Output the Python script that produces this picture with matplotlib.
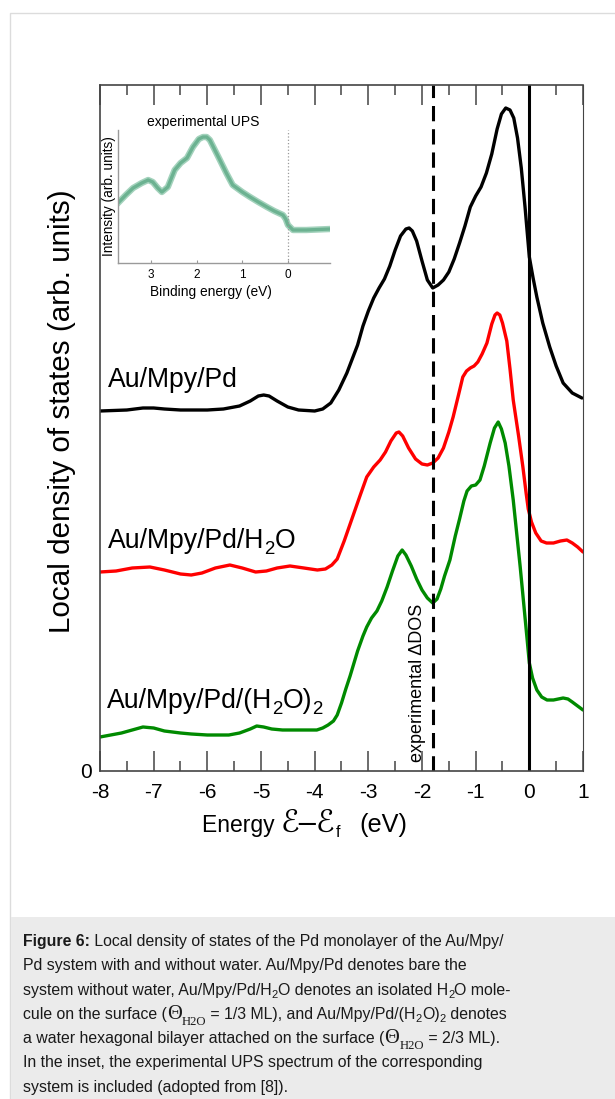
import matplotlib
matplotlib.use("Agg")
import matplotlib.pyplot as plt
from matplotlib import font_manager as fm
from matplotlib.patches import Rectangle
from matplotlib.ticker import MultipleLocator

# --- data -----------------------------------------------------------------
energy_pd = [-8.0, -7.5, -7.2, -7.0, -6.8, -6.5, -6.0, -5.7, -5.4, -5.2, -5.05, -4.95,
             -4.85, -4.7, -4.5, -4.3, -4.0, -3.85, -3.7, -3.55, -3.4, -3.3, -3.2, -3.1,
             -3.0, -2.9, -2.8, -2.7, -2.6, -2.5, -2.4, -2.3, -2.24, -2.18, -2.1, -2.0,
             -1.9, -1.8, -1.7, -1.6, -1.5, -1.4, -1.3, -1.2, -1.1, -1.0, -0.9, -0.8,
             -0.7, -0.6, -0.52, -0.44, -0.36, -0.29, -0.22, -0.15, -0.08, 0.0, 0.07,
             0.14, 0.25, 0.38, 0.5, 0.63, 0.8, 0.98]
dos_pd = [3.60, 3.61, 3.63, 3.63, 3.62, 3.61, 3.61, 3.62, 3.65, 3.70, 3.75, 3.76,
          3.75, 3.70, 3.64, 3.61, 3.60, 3.62, 3.68, 3.81, 3.98, 4.12, 4.26, 4.45,
          4.60, 4.73, 4.83, 4.92, 5.05, 5.21, 5.35, 5.42, 5.43, 5.40, 5.30, 5.10,
          4.91, 4.83, 4.86, 4.91, 4.99, 5.12, 5.28, 5.45, 5.64, 5.75, 5.84, 5.98,
          6.17, 6.42, 6.57, 6.63, 6.61, 6.53, 6.33, 6.03, 5.64, 5.14, 4.93,
          4.74, 4.48, 4.24, 4.05, 3.88, 3.78, 3.73]

energy_h2o = [-8.0, -7.7, -7.4, -7.07, -6.8, -6.5, -6.3, -6.1, -5.85, -5.58, -5.35, -5.1,
              -4.9, -4.7, -4.46, -4.2, -3.95, -3.8, -3.68, -3.58, -3.45, -3.3, -3.15,
              -3.03, -2.9, -2.78, -2.68, -2.58, -2.48, -2.43, -2.36, -2.25, -2.12, -2.0,
              -1.9, -1.8, -1.7, -1.6, -1.5, -1.42, -1.32, -1.24, -1.17, -1.1, -1.03,
              -0.96, -0.88, -0.79, -0.7, -0.64, -0.6, -0.55, -0.5, -0.42, -0.36, -0.3,
              -0.2, -0.12, -0.06, -0.02, 0.04, 0.12, 0.22, 0.32, 0.45, 0.58, 0.7, 0.8,
              0.9, 1.0]
dos_h2o = [1.99, 2.00, 2.03, 2.04, 2.01, 1.97, 1.96, 1.98, 2.03, 2.06, 2.03, 1.99,
           2.00, 2.03, 2.05, 2.03, 2.01, 2.02, 2.06, 2.12, 2.30, 2.53, 2.76,
           2.94, 3.04, 3.11, 3.19, 3.30, 3.38, 3.39, 3.35, 3.23, 3.12, 3.07,
           3.06, 3.08, 3.13, 3.23, 3.39, 3.54, 3.76, 3.94, 4.00, 4.03, 4.05,
           4.09, 4.17, 4.28, 4.47, 4.56, 4.58, 4.56, 4.48, 4.30, 4.02, 3.71,
           3.35, 3.04, 2.78, 2.62, 2.49, 2.38, 2.30, 2.28, 2.28, 2.30, 2.31, 2.28,
           2.24, 2.19]

energy_2h2o = [-8.0, -7.8, -7.6, -7.4, -7.2, -7.0, -6.8, -6.5, -6.3, -6.0, -5.6, -5.4,
               -5.2, -5.08, -4.95, -4.8, -4.6, -4.4, -4.1, -3.96, -3.85, -3.75, -3.65,
               -3.58, -3.5, -3.42, -3.34, -3.2, -3.1, -3.03, -2.94, -2.84, -2.75, -2.65,
               -2.55, -2.45, -2.37, -2.3, -2.2, -2.1, -2.0, -1.9, -1.8, -1.72, -1.65,
               -1.58, -1.48, -1.38, -1.3, -1.22, -1.16, -1.08, -1.0, -0.92, -0.84, -0.73,
               -0.65, -0.58, -0.52, -0.45, -0.38, -0.3, -0.17, -0.04, 0.0, 0.06, 0.14,
               0.23, 0.33, 0.45, 0.63, 0.72, 0.8, 0.9, 1.0]
dos_2h2o = [0.34, 0.36, 0.38, 0.41, 0.44, 0.43, 0.40, 0.38, 0.37, 0.36, 0.36, 0.38,
            0.42, 0.45, 0.44, 0.42, 0.41, 0.41, 0.41, 0.41, 0.43, 0.46, 0.50,
            0.56, 0.68, 0.82, 0.95, 1.20, 1.35, 1.44, 1.53, 1.60, 1.70, 1.84,
            2.00, 2.15, 2.21, 2.16, 2.05, 1.92, 1.81, 1.73, 1.68, 1.72, 1.82,
            1.95, 2.11, 2.35, 2.52, 2.70, 2.80, 2.85, 2.86, 2.91, 3.05, 3.28,
            3.43, 3.49, 3.42, 3.28, 3.05, 2.71, 2.04, 1.31, 1.08, 0.93, 0.81,
            0.74, 0.71, 0.71, 0.73, 0.72, 0.69, 0.65, 0.61]

exp_dos_edge = -1.8     # dashed line
fermi = 0.0

# inset: experimental UPS
binding = [3.72, 3.55, 3.39, 3.2, 3.06, 2.96, 2.85, 2.76, 2.63, 2.48, 2.35, 2.21, 2.08,
           1.95, 1.86, 1.78, 1.71, 1.6, 1.49, 1.35, 1.21, 1.0, 0.83, 0.65, 0.46, 0.3,
           0.11, 0.05, 0.0, -0.11, -0.4, -0.92]
ups = [60, 68, 75, 80, 83, 81, 75, 71, 76, 93, 100, 105, 116,
       124, 126, 126, 123, 113, 103, 90, 78, 71, 66, 61, 56, 52,
       48, 44, 38, 33, 33, 34]

x_ticks = [-8, -7, -6, -5, -4, -3, -2, -1, 0, 1]
ups_ticks = [3, 2, 1, 0]

# --- figure ---------------------------------------------------------------
W, H = 615, 1099
fig = plt.figure(figsize=(W / 100, H / 100), dpi=100)
renderer = fig.canvas.get_renderer()
SANS = ["Liberation Sans", "DejaVu Sans"]

try:
    fm.findfont(fm.FontProperties(family="Liberation Sans Narrow"), fallback_to_default=False)
    CAP_FAM, CAP_SIZE = ["Liberation Sans Narrow", "DejaVu Sans"], 12.8
except Exception:
    CAP_FAM, CAP_SIZE = SANS, 11.45


def fx(x):
    return x / W


def fy(y):
    return 1 - y / H


def advance(s, fp):
    w1 = renderer.get_text_width_height_descent(s + "|", fp, ismath=False)[0]
    w0 = renderer.get_text_width_height_descent("|", fp, ismath=False)[0]
    return w1 - w0


def rich(x, y, pieces, size, family, color="black"):
    """pieces: (text, kind) with kind in n / b / big / med / sub / serif / serifsub"""
    for s, kind in pieces:
        fam, sz, dy, wt = family, size, 0, "normal"
        if kind == "b":
            wt = "bold"
        elif kind == "big":
            sz = size * 1.35
        elif kind == "med":
            sz = size * 1.1
        elif kind == "sub":
            sz, dy = size * 0.7, size * 0.3
        elif kind == "serif":
            fam, sz = ["Liberation Serif", "DejaVu Serif"], size * 1.28
        elif kind == "serifsub":
            fam, sz, dy = ["Liberation Serif", "DejaVu Serif"], size * 0.8, size * 0.55
        fp = fm.FontProperties(family=fam, size=sz, weight=wt)
        fig.text(fx(x), fy(y + dy), s, fontproperties=fp, color=color,
                 ha="left", va="baseline")
        x += advance(s, fp)


# page frame and caption box
fig.add_artist(Rectangle((fx(10), fy(1110)), fx(620), (1110 - 13) / H,
                         transform=fig.transFigure, facecolor="white",
                         edgecolor="#dcdcdc", lw=1.0, zorder=-5))
fig.add_artist(Rectangle((fx(11), 0), fx(615), (1099 - 917) / H,
                         transform=fig.transFigure, facecolor="#ebebeb",
                         edgecolor="none", zorder=-4))

# --- main axes --------------------------------------------------------------
ax = fig.add_axes([fx(100), fy(771), fx(483), (771 - 85) / H])
ax.set_facecolor("none")
lw = 2.4
for e, d, c in [(energy_pd, dos_pd, "black"), (energy_h2o, dos_h2o, "#ff0000"),
                (energy_2h2o, dos_2h2o, "#008a00")]:
    ax.plot(e, d, color=c, lw=lw, solid_joinstyle="round", solid_capstyle="round")
ax.axvline(fermi, color="black", lw=2.2)
ax.axvline(exp_dos_edge, color="black", lw=2.2, dashes=(5.0, 2.6))

ax.set_xlim(-8, 1)
ax.set_ylim(0, 6.86)
ax.set_xticks(x_ticks)
ax.set_xticklabels([str(t) for t in x_ticks], fontfamily=SANS, fontsize=15)
ax.xaxis.set_minor_locator(MultipleLocator(0.5))
ax.set_yticks([0])
ax.set_yticklabels(["0"], fontfamily=SANS, fontsize=15)
ax.tick_params(axis="x", which="both", direction="in", top=True, bottom=True,
               color="#444444", width=1.1, pad=9)
ax.tick_params(axis="x", which="major", length=14.5)
ax.tick_params(axis="x", which="minor", length=7.5)
ax.tick_params(axis="y", length=0, pad=6)
for side in ["left", "bottom", "top"]:
    ax.spines[side].set_color("#444444")
    ax.spines[side].set_linewidth(1.2)
ax.spines["right"].set_color("#444444")
ax.spines["right"].set_linewidth(0.8)

ax.text(-2.09, 0.09, "experimental \u0394DOS", rotation=90, ha="center", va="bottom",
        fontfamily=SANS, fontsize=13)

fig.text(fx(62), fy(411), "Local density of states (arb. units)", rotation=90,
         ha="center", va="center", fontfamily=SANS, fontsize=21.3)
rich(202, 832, [("Energy ", "n"), ("\u2130\u2013\u2130", "big"), ("f", "sub"),
                ("   ", "n"), ("(eV)", "med")], 16.5, SANS)

LBL = 19.2
rich(108, 387, [("Au/Mpy/Pd", "n")], LBL, SANS)
rich(108, 548, [("Au/Mpy/Pd/H", "n"), ("2", "sub"), ("O", "n")], LBL, SANS)
rich(107, 708, [("Au/Mpy/Pd/(H", "n"), ("2", "sub"), ("O)", "n"), ("2", "sub")], LBL, SANS)

# --- inset ------------------------------------------------------------------
axi = fig.add_axes([fx(118), fy(263), fx(212), 133 / H])
axi.set_facecolor("none")
axi.plot(binding, ups, color="#a3d2bc", lw=4.6, solid_joinstyle="round")
axi.plot(binding, ups, color="#6cb291", lw=2.4, solid_joinstyle="round")
axi.axvline(0, color="#9a9a9a", lw=0.9, ls=":")
axi.set_xlim(3.72, -0.92)
axi.set_ylim(0, 133)
axi.set_xticks(ups_ticks)
axi.set_xticklabels([str(t) for t in ups_ticks], fontfamily=SANS, fontsize=8.5)
axi.set_yticks([])
axi.tick_params(axis="x", length=2, direction="in", color="#999999", pad=4.5)
for side in ["top", "right"]:
    axi.spines[side].set_visible(False)
for side in ["left", "bottom"]:
    axi.spines[side].set_color("#9a9a9a")
    axi.spines[side].set_linewidth(1.0)

fig.text(fx(203), fy(122), "experimental UPS", ha="center", va="center",
         fontfamily=SANS, fontsize=10)
fig.text(fx(211), fy(292), "Binding energy (eV)", ha="center", va="center",
         fontfamily=SANS, fontsize=9.9)
fig.text(fx(109), fy(196), "Intensity (arb. units)", rotation=90, ha="center",
         va="center", fontfamily=SANS, fontsize=9.8)

# --- caption ----------------------------------------------------------------
x0, y0, dl = 23, 946, 24.3
caption = [
    [("Figure 6:", "b"), (" Local density of states of the Pd monolayer of the Au/Mpy/", "n")],
    [("Pd system with and without water. Au/Mpy/Pd denotes bare the", "n")],
    [("system without water, Au/Mpy/Pd/H", "n"), ("2", "sub"),
     ("O denotes an isolated H", "n"), ("2", "sub"), ("O mole-", "n")],
    [("cule on the surface (", "n"), ("\u0398", "serif"), ("H2O", "serifsub"),
     (" = 1/3 ML), and Au/Mpy/Pd/(H", "n"), ("2", "sub"), ("O)", "n"), ("2", "sub"),
     (" denotes", "n")],
    [("a water hexagonal bilayer attached on the surface (", "n"), ("\u0398", "serif"),
     ("H2O", "serifsub"), (" = 2/3 ML).", "n")],
    [("In the inset, the experimental UPS spectrum of the corresponding", "n")],
    [("system is included (adopted from [8]).", "n")],
]
for i, line in enumerate(caption):
    rich(x0, y0 + i * dl, line, CAP_SIZE, CAP_FAM, color="#1a1a1a")

fig.savefig("out.png", dpi=100)
